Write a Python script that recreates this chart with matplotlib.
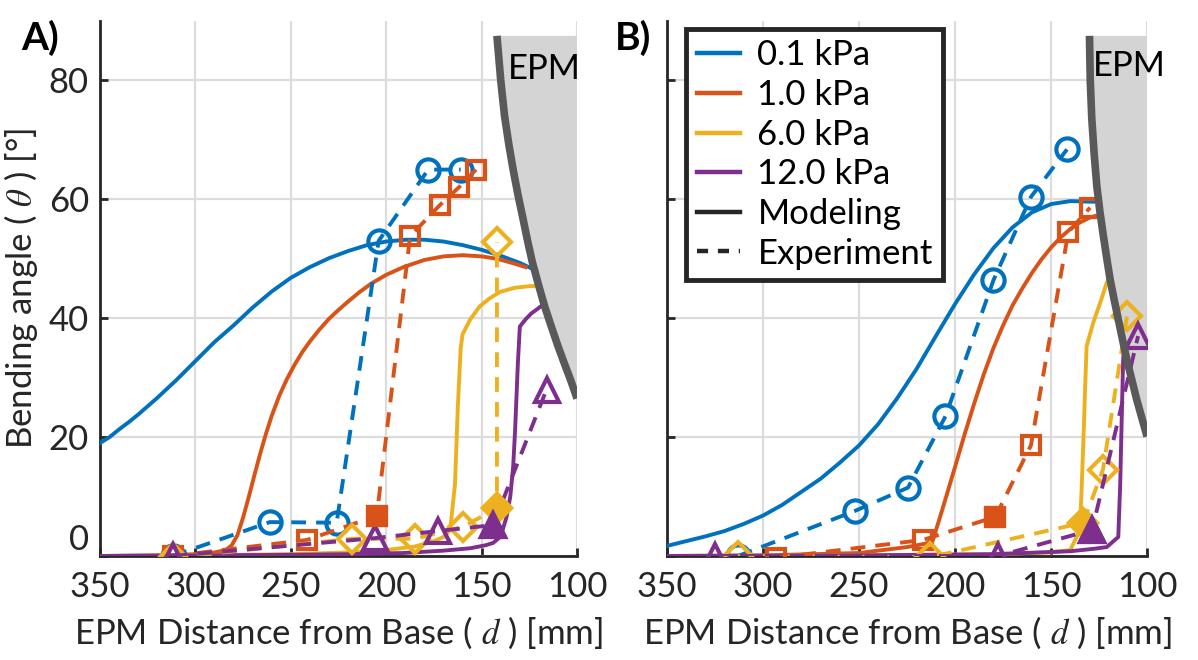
import numpy as np
import matplotlib
matplotlib.use("Agg")
import matplotlib.pyplot as plt
from matplotlib.lines import Line2D

plt.rcParams['font.family'] = ['Lato', 'DejaVu Sans']
plt.rcParams['mathtext.fontset'] = 'stix'

BLUE = '#0072BD'
RED = '#D95319'
YEL = '#EDB120'
PUR = '#7E2F8E'
pressures = ['0.1 kPa', '1.0 kPa', '6.0 kPa', '12.0 kPa']

# ---- panel A: modeling curves (d in mm, angle in deg)
a_blue_d = [350, 345, 340, 335, 330, 320, 310, 300, 290, 280, 270, 260, 250, 240, 230, 220, 210, 200, 190, 180, 170, 160, 150, 140, 130, 124]
a_blue_v = [19, 20, 21.3, 22.5, 23.8, 26.6, 29.6, 32.8, 36, 38.8, 41.8, 44.5, 46.8, 48.6, 50.1, 51.3, 52.3, 52.9, 53.2, 53.2, 52.9, 52.3, 51.5, 50.5, 49.3, 48.4]
a_red_d = [350, 320, 300, 290, 284, 281, 278, 275, 272, 269, 266, 263, 260, 256, 252, 248, 244, 240, 235, 230, 225, 220, 214, 208, 200, 191, 180, 170, 160, 150, 142, 134, 127]
a_red_v = [0, 0.1, 0.3, 0.6, 1, 1.8, 3.5, 6.5, 10, 13.7, 17.3, 20.6, 23.6, 27, 29.8, 32.2, 34.3, 36.1, 38.1, 39.9, 41.4, 42.8, 44.4, 45.8, 47.3, 48.6, 49.8, 50.4, 50.6, 50.4, 50, 49.3, 48.6]
a_yel_d = [350, 300, 250, 220, 200, 185, 175, 170, 166.5, 164, 162.5, 161, 160, 156, 151, 146, 140.5, 133, 125, 123]
a_yel_v = [0, 0.1, 0.3, 0.6, 1, 1.6, 2.5, 3.2, 4.4, 12, 25, 35, 37.3, 39.8, 42, 43.3, 44.4, 45.1, 45.4, 45.4]
a_pur_d = [350, 300, 250, 220, 191, 170, 156, 148, 144, 141, 139, 137, 135, 133.5, 132.5, 131, 130, 127, 124, 121, 119]
a_pur_v = [0, 0.1, 0.2, 0.3, 0.5, 0.9, 1.3, 1.8, 2.2, 3, 4.4, 6.5, 10, 15, 21, 32.6, 38.6, 39.8, 40.8, 41.5, 42]

# ---- panel A: experiment
ae_blue_d = [312, 261, 226, 204, 178, 161]
ae_blue_v = [0, 5.7, 5.6, 53, 65, 65]
ae_red_d = [312, 241.5, 205, 187.5, 172, 162, 153]
ae_red_v = [0, 2.7, 6.75, 53.8, 59, 62, 65]
ae_yel_d = [312, 218, 185, 160, 142, 142]
ae_yel_v = [-0.3, 2.9, 2.9, 4.9, 8, 52.8]
ae_pur_d = [312, 206, 173, 144, 116]
ae_pur_v = [0, 3, 4.2, 5.2, 28]
ae_filled = [None, 2, 4, 3]

# EPM boundary A
a_epm_d = [142, 140, 138, 135.8, 133.5, 131, 128.5, 126, 123.5, 120.2, 117, 113.5, 110, 106.8, 103.5, 100]
a_epm_v = [87.5, 80, 74, 69.3, 65, 60.8, 57, 53.1, 49.5, 45.6, 42, 38.6, 35.3, 32.5, 29.7, 26.5]

# ---- panel B: modeling curves
b_blue_d = [350, 340, 330, 320, 310, 300, 290, 280, 270, 260, 250, 240, 230, 220, 210, 200, 190, 180, 170, 160, 150, 140, 130, 128]
b_blue_v = [1.7, 2.5, 3.3, 4.2, 5.4, 6.8, 8.6, 10.8, 13, 15.7, 18.6, 22.2, 26.6, 31.5, 37, 42.4, 47.4, 51.8, 55.3, 57.8, 59.2, 59.7, 59.6, 59.6]
b_red_d = [350, 300, 250, 225, 215, 211.5, 206, 200, 195, 190, 185, 180, 175, 170, 165, 160, 155, 150, 145, 140, 135, 130, 127]
b_red_v = [0, 0.1, 0.5, 1.5, 2.1, 2.7, 8.5, 15, 20.5, 25.7, 30.6, 35, 38.8, 42.2, 45, 47.6, 49.9, 51.9, 53.6, 55, 56.1, 56.9, 57.2]
b_yel_d = [350, 250, 180, 150, 140, 135, 134, 133, 132.2, 131.5, 128, 124, 121, 119]
b_yel_v = [0, 0.1, 0.3, 0.6, 1, 4.4, 12, 21, 29, 35.3, 39.3, 43, 46, 47]
b_pur_d = [350, 250, 180, 140, 128, 121, 115, 114, 113.3, 112.5, 112]
b_pur_v = [0, 0.1, 0.3, 0.8, 1.2, 1.5, 3.2, 12, 22, 32.6, 36]

# ---- panel B: experiment
be_blue_d = [313, 252, 224.5, 205, 180, 160.5, 141.7]
be_blue_v = [0, 7.6, 11.5, 23.5, 46.4, 60.4, 68.4]
be_red_d = [293, 216.7, 179, 160.5, 141, 129.7]
be_red_v = [-0.3, 2.7, 6.6, 18.6, 54.5, 58.6]
be_yel_d = [313, 213, 133.3, 123, 110.5]
be_yel_v = [0, -0.2, 5.6, 14.5, 40.3]
be_pur_d = [325, 177.6, 128.6, 104.7]
be_pur_v = [0, 0, 4.4, 37]
be_filled = [None, 2, 2, 2]

# EPM boundary B
b_epm_d = [130, 129.6, 128.8, 127.6, 126.2, 124.6, 122.8, 121, 119.3, 117.2, 115, 112.8, 110.6, 108, 105.4, 102.7, 100]
b_epm_v = [87.5, 80, 73.6, 67.8, 62.3, 58, 53.9, 50.1, 46.6, 43.2, 39.8, 36.4, 33.1, 29.7, 26.3, 23.2, 20.1]

colors = [BLUE, RED, YEL, PUR]
markers = ['o', 's', 'D', '^']
msizes = [16, 13, 14, 17]
DASH = (0, (3.8, 2.6))

fig = plt.figure(figsize=(11.98, 6.60), dpi=100)
axA = fig.add_axes([0.0835, 0.1576, 0.3982, 0.8106])
axB = fig.add_axes([0.5568, 0.1576, 0.4007, 0.8106])


def draw_panel(ax, models, exps, filled, epm_d, epm_v, epm_xy):
    ax.fill(np.r_[epm_d, 100], np.r_[epm_v, epm_v[0]], color='#d4d4d4', lw=0, zorder=1)
    for (md, mv), c in zip(models, colors):
        ax.plot(md, mv, color=c, lw=2.8, zorder=3)
    for (ed, ev), c, m, ms, f in zip(exps, colors, markers, msizes, filled):
        ax.plot(ed, ev, color=c, lw=2.8, ls=DASH, marker=m, ms=ms,
                mfc='none', mec=c, mew=3, zorder=4)
        if f is not None:
            ax.plot(ed[f], ev[f], marker=m, ms=ms, color=c, mec=c, mew=3, ls='none', zorder=5)
    ax.plot(epm_d, epm_v, color='#595959', lw=5.5, zorder=6, solid_capstyle='butt')
    ax.text(epm_xy[0], epm_xy[1], 'EPM', fontsize=25, ha='center', va='center', zorder=7)

    ax.set_xlim(350, 100)
    ax.set_ylim(0, 90)
    ax.set_xticks([350, 300, 250, 200, 150, 100])
    ax.set_yticks([0, 20, 40, 60, 80])
    ax.grid(True, color='#dcdcdc', lw=1.6, zorder=0)
    ax.set_axisbelow(True)
    for s in ['top', 'right']:
        ax.spines[s].set_visible(False)
    for s in ['left', 'bottom']:
        ax.spines[s].set_linewidth(2.0)
        ax.spines[s].set_color('#262626')
    ax.tick_params(direction='in', length=6, width=2, color='#262626',
                   labelsize=25, labelcolor='#262626')
    ax.tick_params(axis='x', pad=11)
    ax.tick_params(axis='y', pad=8)
    ax.set_xlabel('EPM Distance from Base ( $d$ ) [mm]', fontsize=25, color='#262626', labelpad=8)


draw_panel(axA,
           [(a_blue_d, a_blue_v), (a_red_d, a_red_v), (a_yel_d, a_yel_v), (a_pur_d, a_pur_v)],
           [(ae_blue_d, ae_blue_v), (ae_red_d, ae_red_v), (ae_yel_d, ae_yel_v), (ae_pur_d, ae_pur_v)],
           ae_filled, a_epm_d, a_epm_v, (117, 82))
draw_panel(axB,
           [(b_blue_d, b_blue_v), (b_red_d, b_red_v), (b_yel_d, b_yel_v), (b_pur_d, b_pur_v)],
           [(be_blue_d, be_blue_v), (be_red_d, be_red_v), (be_yel_d, be_yel_v), (be_pur_d, be_pur_v)],
           be_filled, b_epm_d, b_epm_v, (109.5, 82.5))

axA.set_ylabel('Bending angle ( $\\theta$ ) [°]', fontsize=25, color='#262626', labelpad=6)
axB.set_yticklabels([])
# the 0 label sits above its tick, as in the original
axA.get_yticklabels()[0].set_verticalalignment('bottom')

handles = [Line2D([], [], color=c, lw=3.2) for c in colors]
handles += [Line2D([], [], color='#262626', lw=3.2),
            Line2D([], [], color='#262626', lw=3.2, ls=(0, (2.5, 2.2)))]
leg = axB.legend(handles, pressures + ['Modeling', 'Experiment'], loc='upper left',
                 bbox_to_anchor=(0.04, 0.985), borderaxespad=0, fontsize=25,
                 handlelength=1.25, handletextpad=0.5, labelspacing=0.22,
                 fancybox=False, framealpha=1, borderpad=0.3)
leg.get_frame().set_edgecolor('#262626')
leg.get_frame().set_linewidth(3.5)
leg.set_zorder(10)

fig.text(0.018, 0.925, 'A)', fontsize=28, fontweight='bold')
fig.text(0.513, 0.925, 'B)', fontsize=28, fontweight='bold')

fig.savefig('out.png', dpi=100)
